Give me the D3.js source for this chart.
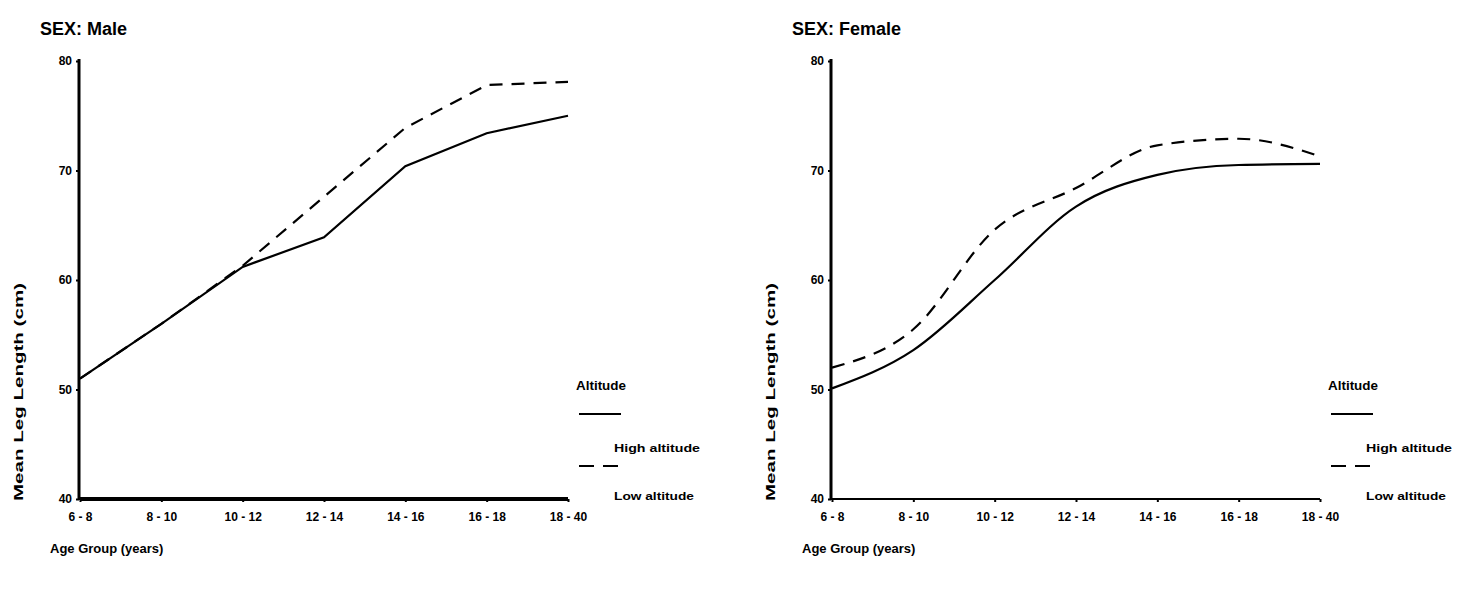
<!DOCTYPE html>
<html>
<head>
<meta charset="utf-8">
<script src="https://cdn.jsdelivr.net/npm/d3@7"></script>
<style>
  body { margin: 0; background: #fff; }
  text { font-family: "Liberation Sans", Arial, sans-serif; font-weight: bold; fill: #000; }
</style>
</head>
<body>
<div id="chart"></div>
<script>
const width = 1463;
const height = 589;

// age groups on the x axis
const ageGroups = ["6 - 8", "8 - 10", "10 - 12", "12 - 14", "14 - 16", "16 - 18", "18 - 40"];
const yTicks = [40, 50, 60, 70, 80];

// mean leg length (cm)
const maleHigh = [51.0, 56.0, 61.2, 63.9, 70.4, 73.4, 75.0];
const maleLow = [51.0, 56.0, 61.3, 67.6, 73.9, 77.8, 78.1];
const femaleHigh = [50.1, 53.6, 60.0, 66.7, 69.6, 70.5, 70.6];
const femaleLow = [52.0, 55.5, 64.6, 68.4, 72.3, 72.9, 71.3];

const svg = d3.select("#chart")
  .append("svg")
  .attr("width", width)
  .attr("height", height);

function panel(title, left, high, low, xAxisW, curve) {
  const x0 = left, x1 = left + 488;
  const top = 61, bottom = 499;

  const x = d3.scalePoint().domain(ageGroups).range([x0, x1]).padding(0);
  const y = d3.scaleLinear().domain([40, 80]).range([bottom, top]);

  const g = svg.append("g");

  g.append("text")
    .attr("x", left - 40).attr("y", 35)
    .style("font-size", "18px")
    .text(title);

  // y axis
  const ya = g.append("g")
    .attr("transform", "translate(" + (x0 - 1) + ",0)")
    .call(d3.axisLeft(y).tickValues(yTicks).tickSize(3).tickPadding(4));
  ya.select(".domain").attr("stroke-width", 3).attr("d", "M0," + (top - 2) + "V" + (bottom + 1));
  ya.selectAll("text").style("font-size", "12px").style("font-family", "'Liberation Sans', Arial").style("font-weight", "bold");
  ya.selectAll(".tick line").attr("stroke-width", 2);

  // x axis
  const xa = g.append("g")
    .attr("transform", "translate(0," + bottom + ")")
    .call(d3.axisBottom(x).tickSize(3).tickPadding(10));
  xa.select(".domain").attr("stroke-width", xAxisW).attr("d", "M" + x0 + ",0H" + x1);
  xa.selectAll("text").style("font-size", "12px").style("font-family", "'Liberation Sans', Arial").style("font-weight", "bold");
  xa.selectAll(".tick line").attr("stroke-width", 2);

  g.append("text")
    .attr("transform", "translate(" + (left - 57) + "," + 392 + ") rotate(-90)")
    .attr("text-anchor", "middle")
    .attr("textLength", 218)
    .attr("lengthAdjust", "spacingAndGlyphs")
    .style("font-size", "13px")
    .text("Mean Leg Length (cm)");

  g.append("text")
    .attr("x", left - 30).attr("y", 553)
    .style("font-size", "13px")
    .text("Age Group (years)");

  const line = d3.line()
    .x((d, i) => x(ageGroups[i]))
    .y(d => y(d))
    .curve(curve);

  g.append("path").datum(high)
    .attr("d", line).attr("fill", "none")
    .attr("stroke", "#000").attr("stroke-width", 2.2);

  g.append("path").datum(low)
    .attr("d", line).attr("fill", "none")
    .attr("stroke", "#000").attr("stroke-width", 2.2)
    .attr("stroke-dasharray", "13,9");

  // legend
  const lx = x1 + 8;
  g.append("text").attr("x", lx).attr("y", 390).style("font-size", "12px")
    .attr("textLength", 50).attr("lengthAdjust", "spacingAndGlyphs").text("Altitude");
  g.append("line").attr("x1", lx + 3).attr("x2", lx + 45).attr("y1", 414).attr("y2", 414)
    .attr("stroke", "#000").attr("stroke-width", 2);
  g.append("text").attr("x", lx + 38).attr("y", 452).style("font-size", "10px")
    .attr("textLength", 86).attr("lengthAdjust", "spacingAndGlyphs").text("High altitude");
  g.append("line").attr("x1", lx + 3).attr("x2", lx + 45).attr("y1", 466).attr("y2", 466)
    .attr("stroke", "#000").attr("stroke-width", 2).attr("stroke-dasharray", "15,9");
  g.append("text").attr("x", lx + 38).attr("y", 500).style("font-size", "10px")
    .attr("textLength", 80).attr("lengthAdjust", "spacingAndGlyphs").text("Low altitude");
}

panel("SEX: Male", 80, maleHigh, maleLow, 4, d3.curveLinear);
panel("SEX: Female", 832, femaleHigh, femaleLow, 2, d3.curveMonotoneX);
</script>
</body>
</html>
